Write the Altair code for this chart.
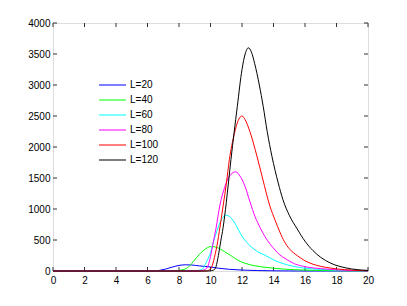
import altair as alt
import pandas as pd

labels = ["L=20", "L=40", "L=60", "L=80", "L=100", "L=120"]
colors = ["#0000ff", "#00ff00", "#00ffff", "#ff00ff", "#ff0000", "#000000"]

t20 = [0, 6.4, 6.8, 7.2, 7.6, 8.0, 8.4, 8.8, 9.3, 10.0, 10.5, 11.2, 12.0, 13.0, 14.0, 15.0, 16.0, 20]
v20 = [0, 0, 12, 35, 65, 90, 100, 97, 82, 65, 45, 27, 15, 7, 3, 1, 0, 0]

t40 = [0, 7.6, 8.0, 8.5, 8.9, 9.3, 9.7, 10.07, 10.4, 10.9, 11.24, 11.7, 12.2, 12.8, 13.5, 14.7, 16, 17, 18, 20]
v40 = [0, 0, 10, 45, 150, 270, 360, 395, 380, 311, 258, 180, 124, 85, 59, 30, 15, 8, 5, 1]

t60 = [0, 9.0, 9.3, 9.55, 9.65, 9.85, 10.03, 10.2, 10.4, 10.6, 10.8, 11.0, 11.2, 11.5, 12.0, 12.5, 13.0, 13.5, 14.0, 14.6, 15.2, 16, 17, 18, 20]
v60 = [0, 0, 15, 45, 100, 200, 320, 480, 640, 780, 870, 900, 880, 790, 560, 410, 310, 250, 180, 120, 80, 45, 25, 12, 3]

t80 = [0, 9.3, 9.55, 9.76, 9.86, 10.0, 10.18, 10.35, 10.6, 10.9, 11.2, 11.6, 11.9, 12.2, 12.5, 12.83, 13.15, 13.46, 13.8, 14.1, 14.41, 14.73, 15.26, 15.9, 16.5, 17.0, 18.0, 19.0, 20]
v80 = [0, 0, 15, 45, 97, 230, 470, 690, 1065, 1350, 1530, 1600, 1520, 1360, 1120, 876, 700, 553, 430, 339, 258, 204, 124, 75, 50, 38, 18, 8, 3]

t100 = [0, 9.7, 9.9, 10.07, 10.25, 10.46, 10.56, 10.81, 11.0, 11.2, 11.5, 11.8, 12.0, 12.2, 12.5, 12.95, 13.3, 13.78, 14.1, 14.4, 14.7, 15.0, 15.5, 16.0, 16.5, 17.0, 17.6, 18.5, 19.3, 20]
v100 = [0, 0, 15, 60, 220, 480, 640, 1065, 1400, 1800, 2200, 2450, 2500, 2440, 2250, 1850, 1500, 1040, 820, 630, 470, 360, 250, 165, 110, 75, 48, 22, 10, 4]

t120 = [0, 9.9, 10.2, 10.35, 10.5, 10.65, 10.8, 11.0, 11.15, 11.3, 11.7, 12.0, 12.2, 12.4, 12.6, 12.8, 13.1, 13.35, 13.6, 13.9, 14.3, 14.6, 15.0, 15.5, 16.0, 16.5, 17.0, 17.6, 18.6, 19.3, 20]
v120 = [0, 0, 15, 70, 250, 480, 700, 1100, 1450, 1800, 2650, 3250, 3500, 3600, 3530, 3350, 3000, 2650, 2250, 1850, 1420, 1150, 900, 680, 480, 330, 220, 130, 50, 22, 10]

x_ticks = [0, 2, 4, 6, 8, 10, 12, 14, 16, 18, 20]
y_ticks = [0, 500, 1000, 1500, 2000, 2500, 3000, 3500, 4000]

series = [(labels[0], t20, v20), (labels[1], t40, v40), (labels[2], t60, v60),
          (labels[3], t80, v80), (labels[4], t100, v100), (labels[5], t120, v120)]
rows = []
for i, (lab, ts, vs) in enumerate(series):
    for t, v in zip(ts, vs):
        rows.append({"t": t, "v": v, "L": lab, "k": i})
df = pd.DataFrame(rows)

W, H = 315, 248
FONT = "Liberation Sans"

xscale = alt.Scale(domain=[0, 20], nice=False, zero=False)
yscale = alt.Scale(domain=[0, 4000], nice=False)
xaxis = alt.Axis(values=x_ticks, ticks=False, domain=False, grid=False, labelPadding=4,
                 title=None, labelFont=FONT, labelFontSize=10, labelColor="black",
                 labelFlush=False, format="d")
yaxis = alt.Axis(values=y_ticks, ticks=False, domain=False, grid=False, labelPadding=3,
                 title=None, labelFont=FONT, labelFontSize=10, labelColor="black",
                 labelFlush=False, format="d")

lines = alt.Chart(df).mark_line(strokeWidth=1, interpolate="monotone").encode(
    x=alt.X("t:Q", scale=xscale, axis=xaxis),
    y=alt.Y("v:Q", scale=yscale, axis=yaxis),
    color=alt.Color("L:N", scale=alt.Scale(domain=labels, range=colors),
                    legend=alt.Legend(title=None, orient="none", legendX=45, legendY=55,
                                      symbolType="stroke", symbolSize=729,
                                      symbolStrokeWidth=2, symbolOpacity=0.5,
                                      clipHeight=14, rowPadding=1, padding=0,
                                      labelFont=FONT, labelFontSize=10, labelOffset=3,
                                      labelColor="black")),
    order=alt.Order("k:Q"),
)

xt = pd.DataFrame({"t": x_ticks})
yt = pd.DataFrame({"v": y_ticks})
tick_len = 4
xb = alt.Chart(xt).mark_rule(color="#333", strokeWidth=1).encode(
    x=alt.X("t:Q", scale=xscale, axis=xaxis), y=alt.value(H), y2=alt.value(H - tick_len))
xtop = alt.Chart(xt).mark_rule(color="#333", strokeWidth=1).encode(
    x=alt.X("t:Q", scale=xscale, axis=xaxis), y=alt.value(0), y2=alt.value(tick_len))
yl = alt.Chart(yt).mark_rule(color="#333", strokeWidth=1).encode(
    y=alt.Y("v:Q", scale=yscale, axis=yaxis), x=alt.value(0), x2=alt.value(tick_len))
yr = alt.Chart(yt).mark_rule(color="#333", strokeWidth=1).encode(
    y=alt.Y("v:Q", scale=yscale, axis=yaxis), x=alt.value(W), x2=alt.value(W - tick_len))

chart = alt.layer(xb, xtop, yl, yr, lines).properties(
    width=W, height=H,
    autosize=alt.AutoSizeParams(type="none"),
    padding={"left": 45, "top": 15, "right": 30, "bottom": 30},
).configure_view(stroke="#444", strokeWidth=1.2).configure(background="white")

chart.save("out.html", embed_options={"renderer": "svg", "actions": False})
